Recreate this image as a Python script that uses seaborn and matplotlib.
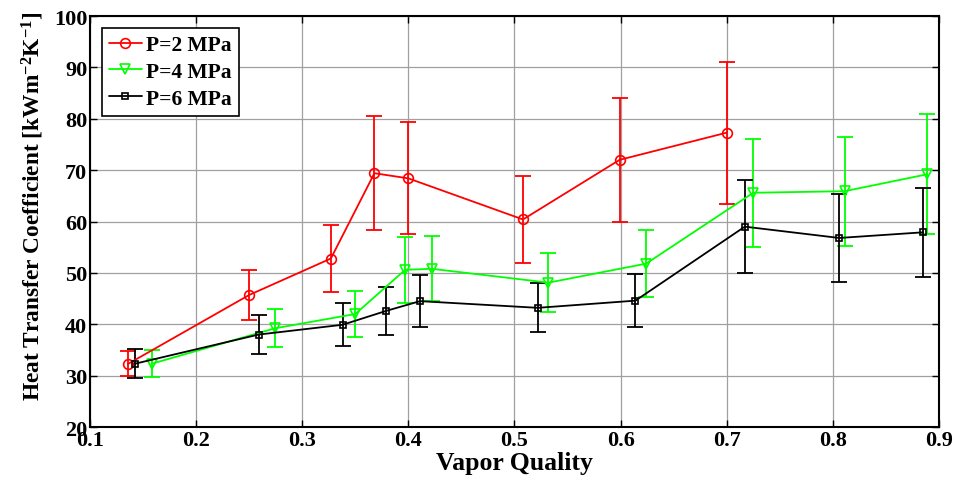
import numpy as np
import pandas as pd
import matplotlib
matplotlib.use("Agg")
import matplotlib.pyplot as plt
import seaborn as sns

# ---- data ----
x_2mpa = [0.136, 0.250, 0.327, 0.368, 0.400, 0.508, 0.599, 0.700]
y_2mpa = [32.3, 45.7, 52.8, 69.4, 68.4, 60.4, 72.0, 77.3]
e_2mpa = [2.4, 4.9, 6.5, 11.1, 10.9, 8.5, 12.0, 13.8]

x_4mpa = [0.158, 0.274, 0.350, 0.397, 0.422, 0.532, 0.624, 0.725, 0.811, 0.889]
y_4mpa = [32.3, 39.2, 42.0, 50.6, 50.8, 48.1, 51.8, 65.6, 65.9, 69.2]
e_4mpa = [2.6, 3.7, 4.4, 6.4, 6.3, 5.7, 6.5, 10.5, 10.6, 11.7]

x_6mpa = [0.142, 0.259, 0.338, 0.379, 0.411, 0.522, 0.614, 0.717, 0.806, 0.885]
y_6mpa = [32.3, 38.0, 39.9, 42.6, 44.5, 43.2, 44.6, 59.0, 56.8, 57.9]
e_6mpa = [2.8, 3.8, 4.2, 4.75, 5.05, 4.8, 5.2, 9.1, 8.5, 8.7]

labels = ["P=2 MPa", "P=4 MPa", "P=6 MPa"]
xticks = [0.1, 0.2, 0.3, 0.4, 0.5, 0.6, 0.7, 0.8, 0.9]
yticks = [20, 30, 40, 50, 60, 70, 80, 90, 100]

sns.set_theme(style="white")
plt.rcParams['font.family'] = ['Liberation Serif', 'DejaVu Serif']
plt.rcParams['font.weight'] = 'bold'
plt.rcParams['text.color'] = 'black'
plt.rcParams['axes.labelcolor'] = 'black'
plt.rcParams['xtick.color'] = 'black'
plt.rcParams['ytick.color'] = 'black'
plt.rcParams['mathtext.fontset'] = 'custom'
plt.rcParams['mathtext.rm'] = 'Liberation Serif:bold'
plt.rcParams['mathtext.bf'] = 'Liberation Serif:bold'
plt.rcParams['mathtext.it'] = 'Liberation Serif:bold'

frames = []
for lab, xs, ys, es in [(labels[0], x_2mpa, y_2mpa, e_2mpa),
                        (labels[1], x_4mpa, y_4mpa, e_4mpa),
                        (labels[2], x_6mpa, y_6mpa, e_6mpa)]:
    frames.append(pd.DataFrame({"x": xs, "y": ys, "err": es, "series": lab}))
df = pd.concat(frames, ignore_index=True)

colors = {labels[0]: "#ff0000", labels[1]: "#00ff00", labels[2]: "#000000"}
markers = {labels[0]: "o", labels[1]: "v", labels[2]: "s"}
msizes = {labels[0]: 7, labels[1]: 7, labels[2]: 5}

fig = plt.figure(figsize=(9.58, 4.89), dpi=100)
ax = fig.add_axes([0.0939, 0.1247, 0.8863, 0.8405])

for lab in labels:
    sub = df[df.series == lab]
    ax.errorbar(sub.x, sub.y, yerr=sub.err, fmt='none', ecolor=colors[lab],
                elinewidth=1.3, capsize=6, capthick=1.3, zorder=2)
    sns.lineplot(data=sub, x="x", y="y", ax=ax, sort=False, color=colors[lab],
                 marker=markers[lab], markersize=msizes[lab], markerfacecolor='none',
                 markeredgecolor=colors[lab], markeredgewidth=1.2, linewidth=1.3,
                 label=lab, zorder=3, errorbar=None)

ax.set_xlim(0.1, 0.9)
ax.set_ylim(20, 100)
ax.set_xticks(xticks)
ax.set_yticks(yticks)
ax.set_xticklabels([f"{t:g}" for t in xticks], fontsize=16, fontweight='bold')
ax.set_yticklabels([str(t) for t in yticks], fontsize=16, fontweight='bold')
ax.tick_params(direction='in', length=5, width=1, top=True, right=True,
               bottom=True, left=True, pad=2, colors='black')
ax.grid(True, color='#a0a0a0', linewidth=0.9, linestyle='-')
for s in ax.spines.values():
    s.set_color('black')
    s.set_linewidth(1.5)

ax.set_xlabel("Vapor Quality", fontsize=18.5, fontweight='bold', labelpad=1)
ax.set_ylabel(r"Heat Transfer Coefficient [kWm$^{-2}$K$^{-1}$]", fontsize=16.8,
              fontweight='bold')
ax.yaxis.set_label_coords(-0.052, 0.54)

leg = ax.legend(loc='upper left', frameon=True, fancybox=False,
                borderaxespad=0.55, handlelength=1.5, handletextpad=0.2,
                labelspacing=0.3, borderpad=0.35, prop={'weight': 'bold', 'size': 15.5})
leg.get_frame().set_edgecolor('black')
leg.get_frame().set_linewidth(1.2)
leg.get_frame().set_alpha(1)

fig.savefig("out.png", dpi=100)
